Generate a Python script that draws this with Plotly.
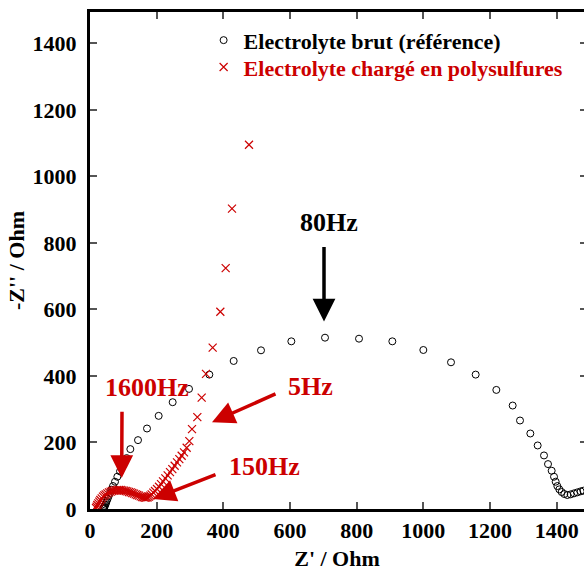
import plotly.graph_objects as go

# Reference electrolyte (black circles): Z' and -Z'' in Ohm
ref_zre = [40, 41, 42, 43, 44, 46, 48, 50, 53, 56, 60, 64, 69, 75, 82, 90, 99, 110, 121, 144, 171, 206,
           248, 297, 358, 431, 513, 604, 705, 807, 907, 1000, 1083, 1157, 1219, 1268, 1290, 1321,
           1343, 1362, 1374, 1385, 1392, 1397, 1402, 1408, 1415, 1423, 1432, 1442, 1452, 1462, 1472, 1480]
ref_zim = [0, 2, 4, 6, 9, 13, 18, 24, 31, 39, 48, 58, 69, 82, 97, 113, 131, 153, 180, 207, 242, 280,
           321, 361, 404, 445, 477, 504, 515, 512, 504, 478, 441, 404, 358, 311, 266, 227,
           191, 161, 135, 115, 97, 82, 69, 59, 51, 45, 42, 44, 47, 50, 53, 55]

# Polysulfide-loaded electrolyte (red crosses)
ps_zre = [18, 20, 22, 25, 28, 31, 35, 39, 43, 47, 52, 57, 62, 67, 72, 77, 82, 87, 92, 97, 102, 107,
          112, 117, 122, 127, 132, 137, 142, 147, 152, 157, 161, 165, 169, 173, 177, 181, 185, 190,
          195, 201, 207, 213, 219, 226, 233, 240, 247, 254, 261, 268, 275, 282, 290, 298, 306,
          322, 335, 348, 368, 391, 407, 426, 477]
ps_zim = [3, 7, 12, 17, 22, 27, 32, 37, 41, 44, 47, 50, 52, 54, 55, 56, 57, 57, 57, 56, 55, 54,
          53, 51, 50, 48, 46, 44, 42, 40, 38, 36, 35, 34, 34, 35, 37, 40, 44, 49,
          54, 60, 67, 75, 83, 92, 101, 111, 120, 130, 140, 150, 160, 170, 184, 204, 240,
          276, 335, 406, 485, 593, 724, 903, 1095]

ref_name = "Electrolyte brut (référence)"
ps_name = "Electrolyte chargé en polysulfures"

tick_vals = [0, 200, 400, 600, 800, 1000, 1200, 1400]
tick_text = ["0", "200", "400", "600", "800", "1000", "1200", "1400"]

# Frequency annotations: (label, text x, text y, arrow tail x, tail y, tip x, tip y, colour)
ann_labels = ["80Hz", "1600Hz", "5Hz", "150Hz"]
ann_text_x = [717, 171, 660, 522]
ann_text_y = [861, 366, 369, 129]
ann_tail_x = [702, 96, 561, 381]
ann_tail_y = [792, 297, 348, 105]
ann_tip_x = [702, 95, 366, 189]
ann_tip_y = [564, 93, 261, 30]
ann_colors = ["#000000", "#cc0000", "#cc0000", "#cc0000"]

RED = "#cc0000"
FONT = "Liberation Serif, Times New Roman, serif"

fig = go.Figure()
fig.add_trace(go.Scatter(
    x=ref_zre, y=ref_zim, mode="markers", name=f"<b>{ref_name}</b>", legend="legend",
    marker=dict(symbol="circle-open", size=7, color="black", line=dict(width=1, color="black")),
))
fig.add_trace(go.Scatter(
    x=ps_zre, y=ps_zim, mode="markers", legend="legend2",
    name=f"<b><span style='color:{RED}'>{ps_name}</span></b>",
    marker=dict(symbol="x-thin-open", size=8, color=RED, line=dict(width=1.2, color=RED)),
))
# invisible trace for right-hand ticks
fig.add_trace(go.Scatter(x=[None], y=[None], yaxis="y2", showlegend=False))

for lab, tx, ty, ax, ay, hx, hy, col in zip(ann_labels, ann_text_x, ann_text_y, ann_tail_x,
                                             ann_tail_y, ann_tip_x, ann_tip_y, ann_colors):
    fig.add_annotation(x=tx, y=ty, xref="x", yref="y", text=f"<b>{lab}</b>", showarrow=False,
                       font=dict(family=FONT, size=26, color=col))
    fig.add_annotation(x=hx, y=hy, ax=ax, ay=ay, xref="x", yref="y", axref="x", ayref="y",
                       text="", showarrow=True, arrowhead=2, arrowsize=1.3, arrowwidth=3.5,
                       arrowcolor=col, standoff=0, startstandoff=0)

axis_common = dict(
    showgrid=False, zeroline=False, showline=True, linecolor="black", linewidth=3,
    ticks="inside", ticklen=7, tickwidth=1.5, tickcolor="#555",
    tickfont=dict(family=FONT, size=22, color="black", weight="bold"),
    tickvals=tick_vals, ticktext=tick_text, automargin=False,
)
legend_common = dict(xanchor="left", yanchor="middle", bgcolor="rgba(0,0,0,0)",
                     font=dict(family=FONT, size=22, color="black"), itemwidth=30)
fig.update_layout(
    width=584, height=571,
    margin=dict(l=90, r=0, t=12, b=62),
    paper_bgcolor="white", plot_bgcolor="white",
    font=dict(family=FONT, size=22, color="black"),
    xaxis=dict(range=[0, 1482], mirror="ticks",
               title=dict(text="<b>Z' / Ohm</b>", font=dict(family=FONT, size=22), standoff=17),
               **axis_common),
    yaxis=dict(range=[0, 1494], mirror=False, ticklabelstandoff=6,
               title=dict(text="<b>-Z'' / Ohm</b>", font=dict(family=FONT, size=22), standoff=2),
               **axis_common),
    yaxis2=dict(range=[0, 1494], overlaying="y", side="right", showticklabels=False,
                showgrid=False, zeroline=False, showline=False, tickvals=tick_vals,
                ticks="inside", ticklen=4, tickwidth=1.5, tickcolor="#555"),
    legend=dict(x=0.23, y=0.943, **legend_common),
    legend2=dict(x=0.23, y=0.889, **legend_common),
    showlegend=True,
)

fig.write_html(
    "out.html",
    config={"displayModeBar": False},
    post_script="document.body.style.margin='0';document.body.style.overflow='hidden';",
)
